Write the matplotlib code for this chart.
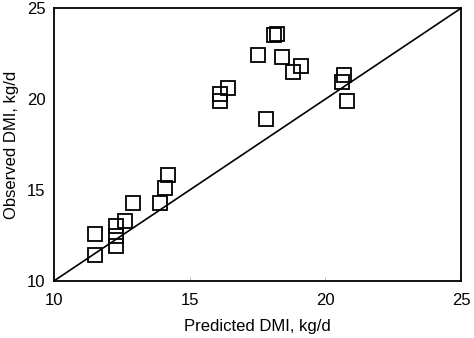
import matplotlib.pyplot as plt

plt.rcParams['font.family'] = ['Liberation Sans', 'DejaVu Sans']

# Predicted vs observed dry matter intake, kg/d
predicted = [11.5, 11.5, 12.3, 12.3, 12.3, 12.6, 12.9, 13.9, 14.1, 14.2,
             16.1, 16.1, 16.4, 17.5, 17.8, 18.1, 18.2, 18.4, 18.8, 19.1,
             20.6, 20.7, 20.8]
observed = [12.6, 11.45, 13.0, 12.45, 11.9, 13.3, 14.3, 14.3, 15.1, 15.8,
            19.9, 20.3, 20.6, 22.4, 18.9, 23.5, 23.6, 22.3, 21.5, 21.8,
            20.95, 21.3, 19.9]
axis_ticks = [10, 15, 20, 25]

fig = plt.figure(figsize=(4.74, 3.38), dpi=100)
ax = fig.add_axes([0.114, 0.169, 0.859, 0.807])

# 1:1 line
ax.plot([10, 25], [10, 25], color='black', linewidth=1.2)
ax.plot(predicted, observed, linestyle='none', marker='s', markersize=10,
        markerfacecolor='none', markeredgecolor='black', markeredgewidth=1.3)

ax.set_xlim(10, 25)
ax.set_ylim(10, 25)
ax.set_xticks(axis_ticks)
ax.set_yticks(axis_ticks)
ax.tick_params(axis='x', direction='in', length=3, width=0.5, colors='#999999',
               labelcolor='black', labelsize=12, pad=9)
ax.tick_params(axis='y', length=0, labelsize=12, pad=6)
for spine in ax.spines.values():
    spine.set_linewidth(1.3)

ax.set_xlabel('Predicted DMI, kg/d', fontsize=12, labelpad=8)
ax.set_ylabel('Observed DMI, kg/d', fontsize=12, labelpad=6)

fig.savefig('out.png', dpi=100)
